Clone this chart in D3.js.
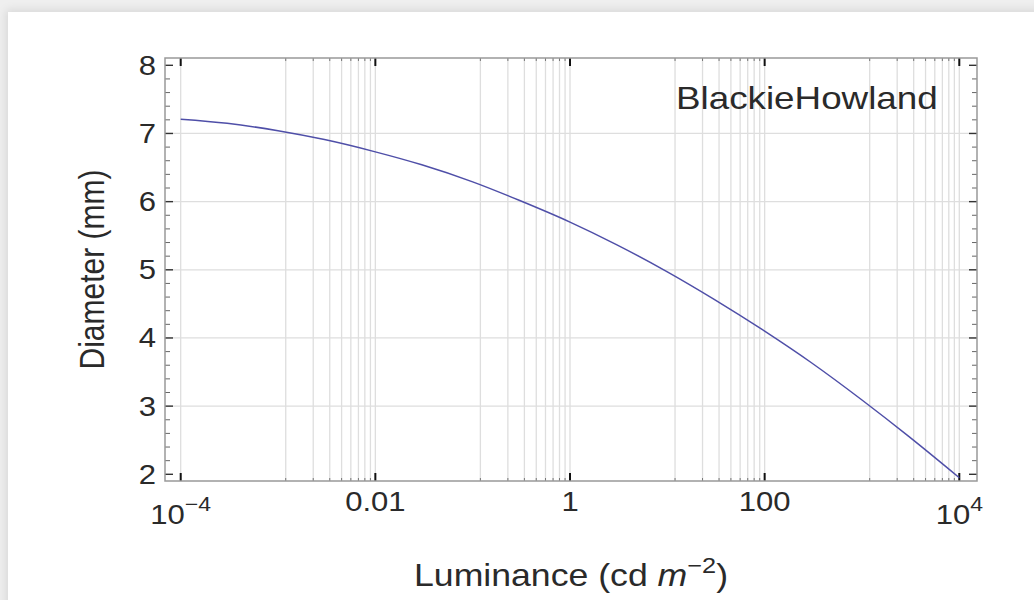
<!DOCTYPE html>
<html>
<head>
<meta charset="utf-8">
<script src="https://cdn.jsdelivr.net/npm/d3@7"></script>
<style>
  html, body { margin: 0; padding: 0; width: 1034px; height: 600px; overflow: hidden; background: #efefef; }
  #card { position: absolute; left: 8px; top: 12px; width: 1100px; height: 700px; background: #fff;
          box-shadow: 0 0 9px 2px rgba(0,0,0,0.10); }
  svg { position: absolute; left: 0; top: 0; }
  text { font-family: "Liberation Sans", Arial, Helvetica, sans-serif; fill: #2a2a2a; }
</style>
</head>
<body>
<div id="card"></div>
<svg id="chart" width="1034" height="600"></svg>
<script>
// ---- data ----
const luminance = [0.0001, 0.0003, 0.001, 0.003, 0.01, 0.03, 0.1, 0.3, 1, 3, 10, 30, 100, 300, 1000, 3000, 10000];
const diameter  = [7.21, 7.15, 7.04, 6.91, 6.73, 6.54, 6.29, 6.02, 5.70, 5.37, 4.97, 4.57, 4.10, 3.64, 3.09, 2.56, 1.95];
const seriesName = "BlackieHowland";

const xMajorTicks = [0.0001, 0.01, 1, 100, 10000];
const xMajorLabels = [["10", "\u22124"], ["0.01", null], ["1", null], ["100", null], ["10", "4"]];
const xMinorTicks = [0.0012, 0.0023, 0.0034, 0.0045, 0.0056, 0.0067, 0.0078, 0.0089,
                     0.12, 0.23, 0.34, 0.45, 0.56, 0.67, 0.78, 0.89,
                     12, 23, 34, 45, 56, 67, 78, 89,
                     1200, 2300, 3400, 4500, 5600, 6700, 7800, 8900];
const yMajorTicks = [2, 3, 4, 5, 6, 7, 8];
const yMinorTicks = [2.2, 2.4, 2.6, 2.8, 3.2, 3.4, 3.6, 3.8, 4.2, 4.4, 4.6, 4.8,
                     5.2, 5.4, 5.6, 5.8, 6.2, 6.4, 6.6, 6.8, 7.2, 7.4, 7.6, 7.8];
const yGridLines = [3, 4, 5, 6, 7];
const xLabel = "Luminance (cd ";
const yLabel = "Diameter (mm)";

// ---- layout ----
const frame = { left: 165, right: 977, top: 58, bottom: 481 };
const SX = 1.15; // horizontal text stretch seen in the reference

const x = d3.scaleLog().domain([1e-4, 1e4]).range([180.7, 959.3]);
const y = d3.scaleLinear().domain([2, 8]).range([474.3, 65.3]);

const svg = d3.select("#chart");

// gridlines
const grid = svg.append("g").attr("stroke", "#dedede").attr("stroke-width", 1.3);
grid.selectAll("line.v").data(xMajorTicks.concat(xMinorTicks)).join("line")
  .attr("x1", d => x(d)).attr("x2", d => x(d))
  .attr("y1", frame.top).attr("y2", frame.bottom);
grid.selectAll("line.h").data(yGridLines).join("line")
  .attr("x1", frame.left).attr("x2", frame.right)
  .attr("y1", d => y(d)).attr("y2", d => y(d));

// ticks (inward, on all four sides)
const ticks = svg.append("g").attr("stroke", "#555");
function xTicks(vals, len, w, col) {
  const g = ticks.append("g").attr("stroke-width", w).attr("stroke", col);
  g.selectAll("line.b").data(vals).join("line").attr("class", "b")
    .attr("x1", d => x(d)).attr("x2", d => x(d)).attr("y1", frame.bottom).attr("y2", frame.bottom - len);
  g.selectAll("line.t").data(vals).join("line").attr("class", "t")
    .attr("x1", d => x(d)).attr("x2", d => x(d)).attr("y1", frame.top).attr("y2", frame.top + len);
}
function yTicks(vals, len, w, col) {
  const g = ticks.append("g").attr("stroke-width", w).attr("stroke", col);
  g.selectAll("line.l").data(vals).join("line").attr("class", "l")
    .attr("y1", d => y(d)).attr("y2", d => y(d)).attr("x1", frame.left).attr("x2", frame.left + len);
  g.selectAll("line.r").data(vals).join("line").attr("class", "r")
    .attr("y1", d => y(d)).attr("y2", d => y(d)).attr("x1", frame.right).attr("x2", frame.right - len);
}
xTicks(xMinorTicks, 3, 1, "#777");
xTicks(xMajorTicks, 8, 2, "#111");
yTicks(yMinorTicks, 5, 1, "#666");
yTicks(yMajorTicks, 8, 1.4, "#333");

// frame
svg.append("rect")
  .attr("x", frame.left).attr("y", frame.top)
  .attr("width", frame.right - frame.left).attr("height", frame.bottom - frame.top)
  .attr("fill", "none").attr("stroke", "#999").attr("stroke-width", 1.5);

// curve
const line = d3.line()
  .x((d, i) => x(luminance[i]))
  .y(d => y(d))
  .curve(d3.curveMonotoneX);
svg.append("path").datum(diameter)
  .attr("d", line)
  .attr("fill", "none").attr("stroke", "#4f4fa8").attr("stroke-width", 1.5);

// y tick labels
svg.append("g").selectAll("text").data(yMajorTicks).join("text")
  .attr("transform", d => `translate(156,${y(d) + 9.5}) scale(${SX},1)`)
  .attr("text-anchor", "end").attr("font-size", 27)
  .text(d => d);

// x tick labels
const xl = svg.append("g").selectAll("text").data(xMajorTicks).join("text")
  .attr("transform", (d, i) => `translate(${x(d)},${xMajorLabels[i][1] ? 524 : 510.5}) scale(${SX},1)`)
  .attr("text-anchor", "middle").attr("font-size", 27);
xl.each(function (d, i) {
  const t = d3.select(this);
  const lab = xMajorLabels[i];
  t.append("tspan").text(lab[0]);
  if (lab[1]) {
    t.append("tspan").attr("font-size", 20).attr("dy", -13).text(lab[1]);
  }
});

// x axis label
const xt = svg.append("text")
  .attr("transform", `translate(571,586) scale(${SX},1)`)
  .attr("text-anchor", "middle").attr("font-size", 31);
xt.append("tspan").text(xLabel);
xt.append("tspan").attr("font-style", "italic").text("m");
xt.append("tspan").attr("font-size", 22).attr("dy", -13).text("\u22122");
xt.append("tspan").attr("dy", 13).text(")");

// y axis label
svg.append("text")
  .attr("transform", `translate(104,269.5) scale(${SX},1) rotate(-90)`)
  .attr("text-anchor", "middle").attr("font-size", 30)
  .text(yLabel);

// legend label
svg.append("text")
  .attr("transform", `translate(676,109) scale(${SX},1)`)
  .attr("font-size", 32)
  .text(seriesName);
</script>
</body>
</html>
